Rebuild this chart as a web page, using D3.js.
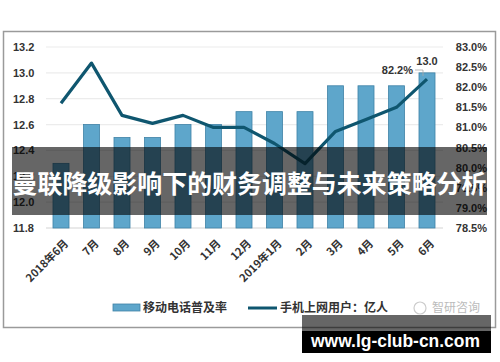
<!DOCTYPE html>
<meta charset="utf-8">
<style>
body { margin: 0; background: #fff; }
text { font-family: "Liberation Sans", "Noto Sans CJK SC", sans-serif; }
.tick text { font-size: 11px; font-weight: bold; fill: #333; }
.cjk { font-family: "Noto Sans CJK SC", sans-serif; }
</style>
<svg width="500" height="362"></svg>
<script src="https://d3js.org/d3.v7.min.js"></script>
<script>
// months, bars = 移动电话普及率 (left axis), line = 手机上网用户 (right axis)
var months = ["2018年6月", "7月", "8月", "9月", "10月", "11月", "12月", "2019年1月", "2月", "3月", "4月", "5月", "6月"];
var barValues = [12.3, 12.6, 12.5, 12.5, 12.6, 12.6, 12.7, 12.7, 12.7, 12.9, 12.9, 12.9, 13.0];
var lineValues = [81.6, 82.6, 81.3, 81.1, 81.3, 81.0, 81.0, 80.6, 80.1, 80.9, 81.2, 81.5, 82.2];
var leftTicks = [11.8, 12.0, 12.2, 12.4, 12.6, 12.8, 13.0, 13.2];
var rightTicks = [78.5, 79.0, 79.5, 80.0, 80.5, 81.0, 81.5, 82.0, 82.5, 83.0];

var svg = d3.select("svg");

// chart frame
svg.append("rect")
    .attr("x", 3.5).attr("y", 31.5)
    .attr("width", 492).attr("height", 296)
    .attr("fill", "#fff")
    .attr("stroke", "#9a9a9a")
    .attr("stroke-width", 1.5);

var x = d3.scaleBand()
    .domain(months)
    .range([45.75, 442.25])
    .paddingInner(0.475)
    .paddingOuter(0.2375);

var yL = d3.scaleLinear().domain([11.8, 13.2]).range([228, 47]);
var yR = d3.scaleLinear().domain([78.5, 83]).range([228, 47]);

// gridlines
svg.append("g")
  .selectAll("line")
  .data(leftTicks)
  .enter().append("line")
    .attr("x1", 46).attr("x2", 443)
    .attr("y1", function(d) { return yL(d); })
    .attr("y2", function(d) { return yL(d); })
    .attr("stroke", function(d) { return d == 11.8 ? "#d4d4d4" : "#ececec"; })
    .attr("stroke-width", 1.2);

// left axis
var gl = svg.append("g")
    .attr("transform", "translate(36,0)")
    .call(d3.axisLeft(yL).tickValues(leftTicks).tickFormat(d3.format(".1f")).tickSize(0));
gl.select(".domain").remove();
gl.selectAll("text").attr("text-anchor", "start").attr("x", -23);

// right axis
var gr = svg.append("g")
    .attr("transform", "translate(487,0)")
    .call(d3.axisRight(yR).tickValues(rightTicks).tickFormat(function(d) { return d.toFixed(1) + "%"; }).tickSize(0));
gr.select(".domain").remove();
gr.selectAll("text").attr("text-anchor", "end").attr("x", 0);

// bars
svg.append("g")
  .selectAll("rect")
  .data(barValues)
  .enter().append("rect")
    .attr("x", function(d, i) { return x(months[i]); })
    .attr("y", function(d) { return yL(d); })
    .attr("width", x.bandwidth())
    .attr("height", function(d) { return yL(11.8) - yL(d); })
    .attr("fill", "#5ea6cb")
    .attr("stroke", "#3f82a6")
    .attr("stroke-width", 0.8);

// line
var line = d3.line()
    .x(function(d, i) { return x(months[i]) + x.bandwidth() / 2; })
    .y(function(d) { return yR(d); });
svg.append("path")
    .datum(lineValues)
    .attr("d", line)
    .attr("fill", "none")
    .attr("stroke", "#0f566f")
    .attr("stroke-width", 3.2)
    .attr("stroke-linejoin", "round");

// x labels
var gx = svg.append("g")
    .attr("transform", "translate(0,228)")
    .call(d3.axisBottom(x).tickSize(0));
gx.select(".domain").remove();
gx.selectAll("text")
    .attr("class", "cjk")
    .style("font-size", "11px")
    .style("font-weight", "bold")
    .attr("text-anchor", "end")
    .attr("dy", 0)
    .attr("transform", "translate(6,14) rotate(-45)");

// data labels
var last = months.length - 1;
svg.append("text")
    .attr("x", x(months[last]) + x.bandwidth() / 2)
    .attr("y", yL(barValues[last]) - 8)
    .attr("text-anchor", "middle")
    .style("font-size", "11px").style("font-weight", "bold").attr("fill", "#333")
    .text(barValues[last].toFixed(1));
svg.append("text")
    .attr("x", 413)
    .attr("y", 74)
    .attr("text-anchor", "end")
    .style("font-size", "11px").style("font-weight", "bold").attr("fill", "#333")
    .text(lineValues[last].toFixed(1) + "%");
svg.append("polyline")
    .attr("points", "415,70 423,70 423,76")
    .attr("fill", "none")
    .attr("stroke", "#aaa")
    .attr("stroke-width", 0.8);

// legend
var lg = svg.append("g").attr("transform", "translate(0,308)");
lg.append("rect")
    .attr("x", 113).attr("y", -4).attr("width", 27).attr("height", 7)
    .attr("fill", "#5ea6cb").attr("stroke", "#3f82a6").attr("stroke-width", 0.8);
lg.append("text")
    .attr("class", "cjk")
    .attr("x", 143).attr("y", 4)
    .style("font-size", "12px").style("font-weight", "bold").attr("fill", "#333")
    .text("移动电话普及率");
lg.append("line")
    .attr("x1", 248).attr("x2", 277).attr("y1", 0).attr("y2", 0)
    .attr("stroke", "#0f566f").attr("stroke-width", 3);
lg.append("text")
    .attr("class", "cjk")
    .attr("x", 280).attr("y", 4)
    .style("font-size", "12px").style("font-weight", "bold").attr("fill", "#333")
    .text("手机上网用户：亿人");
lg.append("circle")
    .attr("cx", 420).attr("cy", 0).attr("r", 6)
    .attr("fill", "none").attr("stroke", "#ccc").attr("stroke-width", 1.2);
lg.append("text")
    .attr("class", "cjk")
    .attr("x", 432).attr("y", 4)
    .style("font-size", "12px").attr("fill", "#bbb")
    .text("智研咨询");

// title band
svg.append("rect")
    .attr("x", 12).attr("y", 147).attr("width", 475).attr("height", 68)
    .attr("fill", "rgba(0,0,0,0.6)");
svg.append("text")
    .attr("class", "cjk")
    .attr("x", 249.5).attr("y", 193)
    .attr("text-anchor", "middle")
    .attr("textLength", 474).attr("lengthAdjust", "spacingAndGlyphs")
    .style("font-size", "25px").style("font-weight", "bold").attr("fill", "#fff")
    .text("曼联降级影响下的财务调整与未来策略分析");

// site watermark
svg.append("rect")
    .attr("x", 302).attr("y", 315).attr("width", 189).attr("height", 38)
    .attr("fill", "rgba(0,0,0,0.6)");
svg.append("rect")
    .attr("x", 302).attr("y", 331).attr("width", 189).attr("height", 22)
    .attr("fill", "#000");
svg.append("text")
    .attr("x", 311).attr("y", 347)
    .attr("textLength", 169).attr("lengthAdjust", "spacingAndGlyphs")
    .style("font-size", "19px").style("font-weight", "bold").attr("fill", "#fff")
    .text("www.lg-club-cn.com");
</script>
